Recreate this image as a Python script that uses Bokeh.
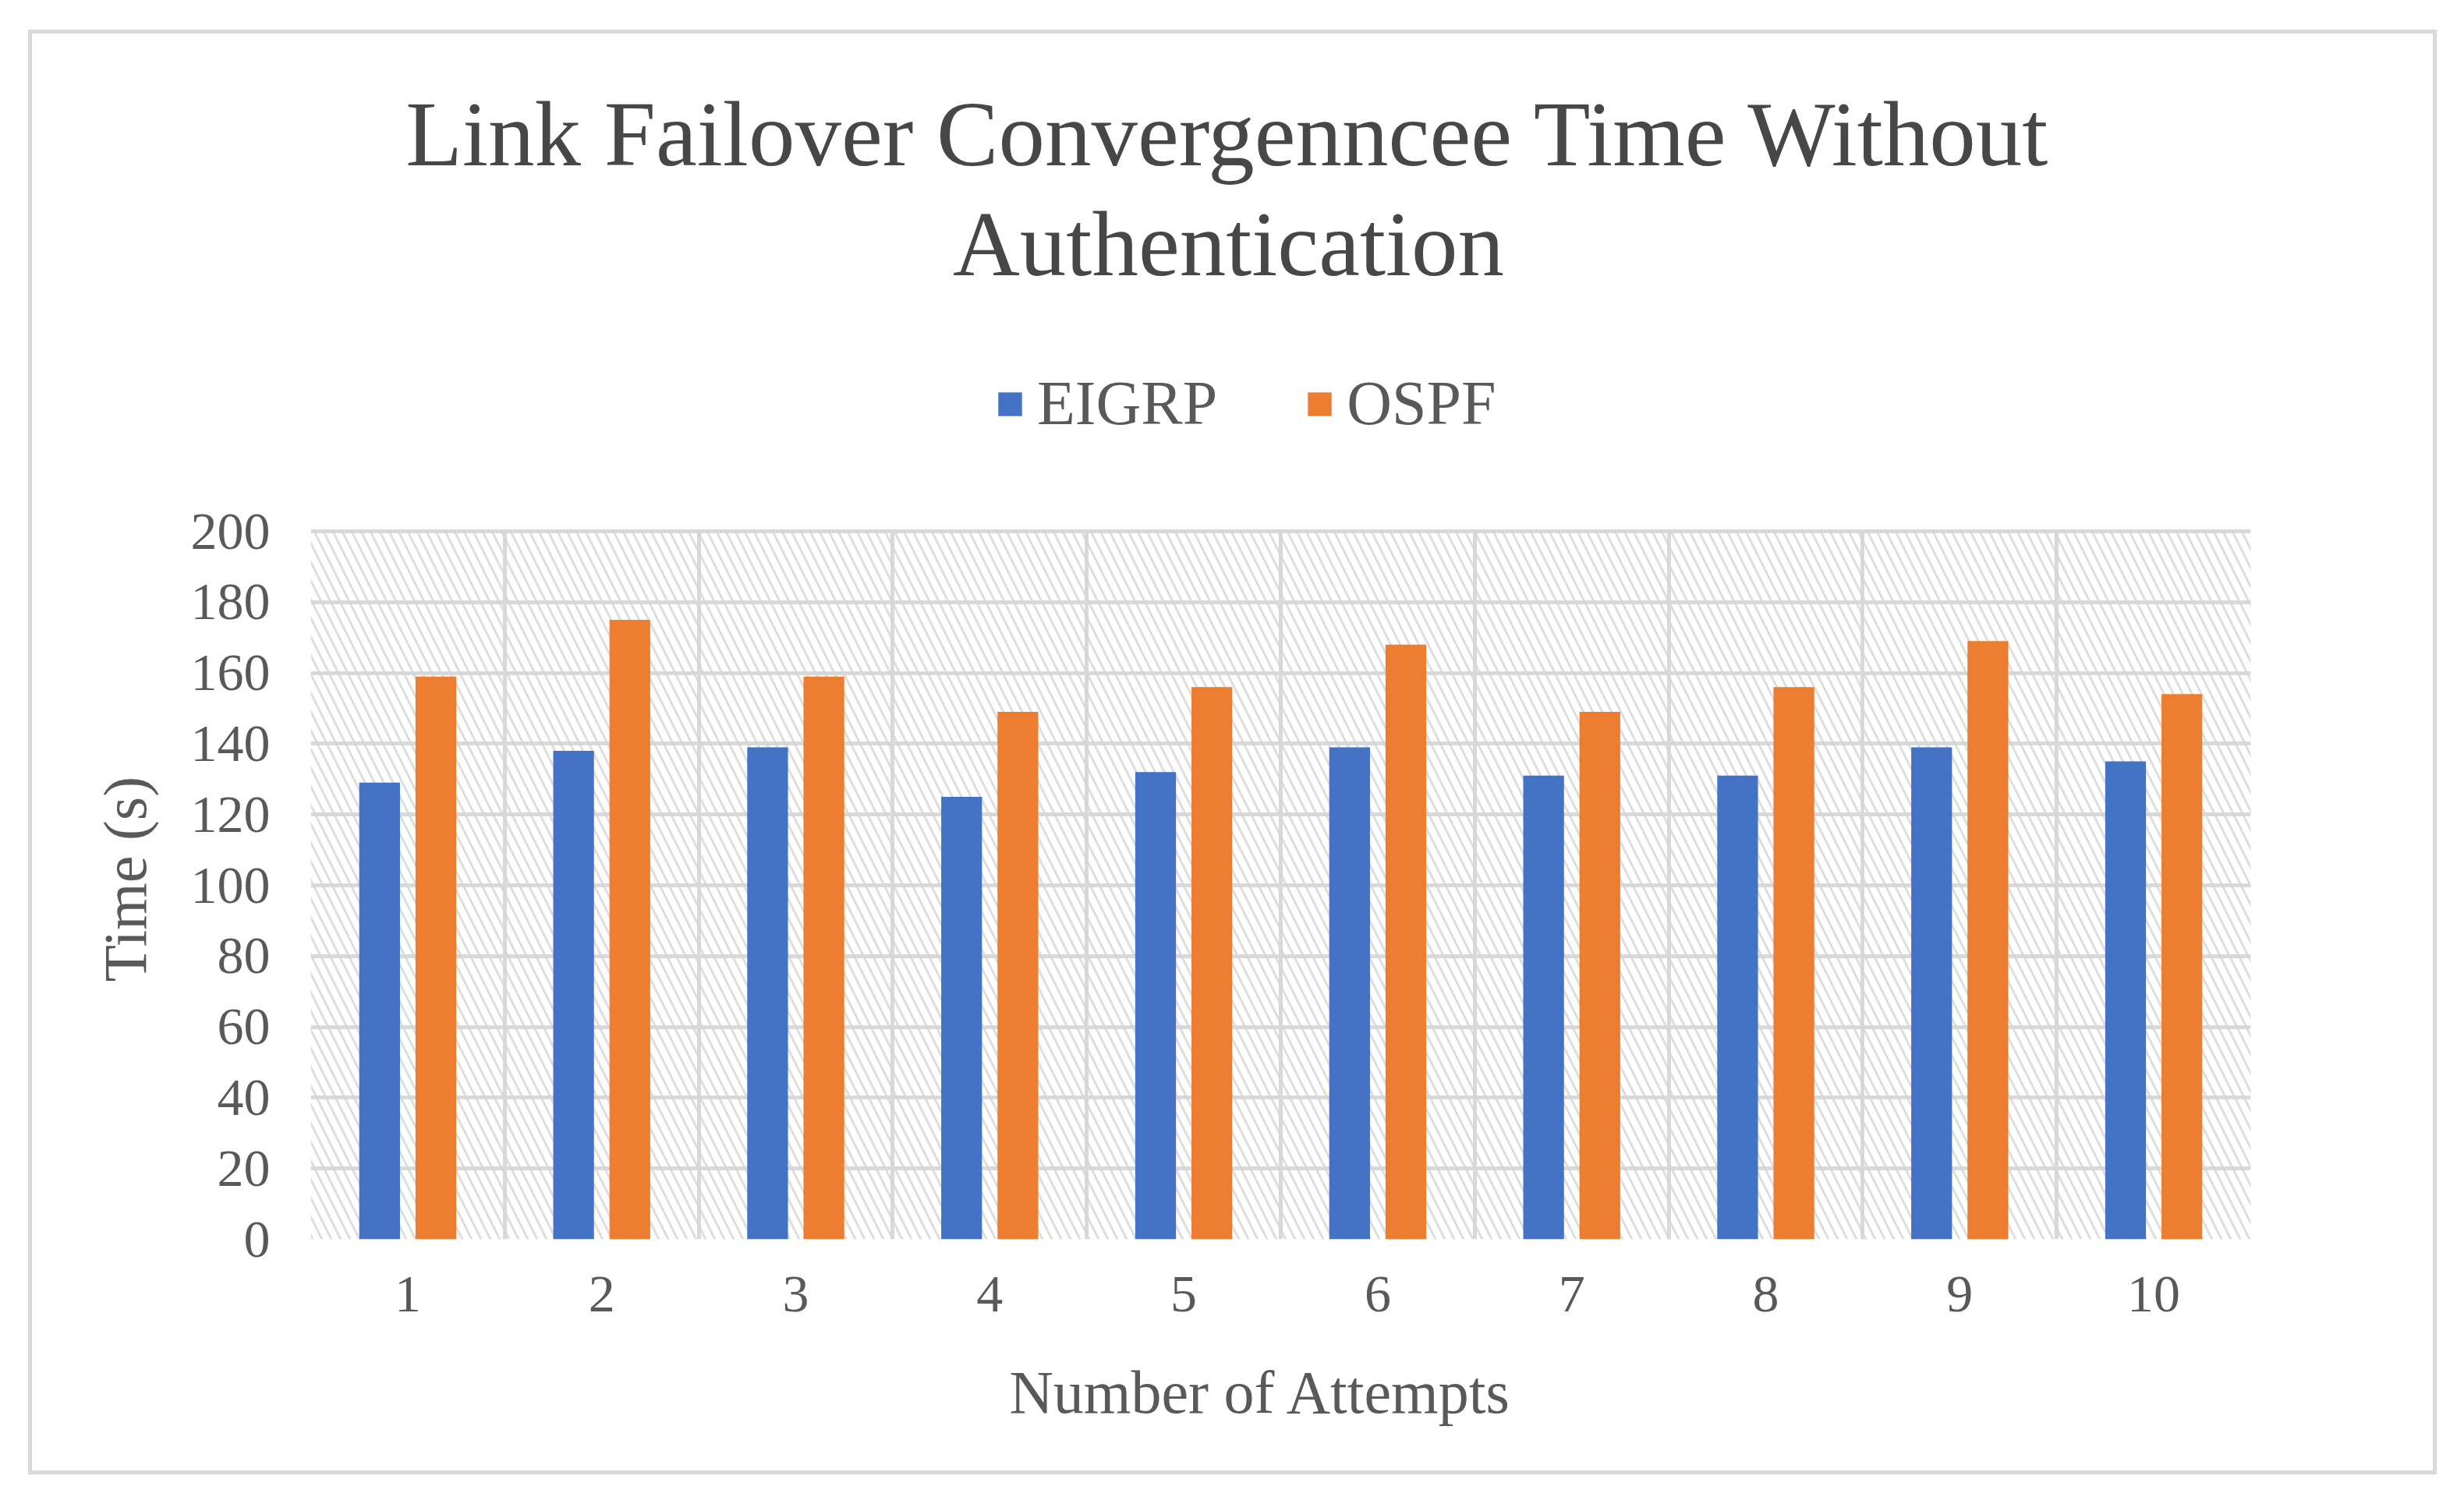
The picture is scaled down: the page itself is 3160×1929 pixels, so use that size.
from bokeh.plotting import figure
from bokeh.models import Range1d, FixedTicker, BoxAnnotation, Legend, LegendItem, Label, Title
from bokeh.embed import file_html
from bokeh.resources import INLINE

# ---- data ----
attempts = [1, 2, 3, 4, 5, 6, 7, 8, 9, 10]
eigrp = [129, 138, 139, 125, 132, 139, 131, 131, 139, 135]
ospf = [159, 175, 159, 149, 156, 168, 149, 156, 169, 154]
series_names = ["EIGRP", "OSPF"]
series_colors = ["#4472C4", "#ED7D31"]
y_ticks = [0, 20, 40, 60, 80, 100, 120, 140, 160, 180, 200]
title_lines = ["Link Failover Convergenncee Time Without", "Authentication"]
x_title = "Number of Attempts"
y_title = "Time (s)"

FONT = "Liberation Serif"
TXT = "#595959"
GRID = "#D9D9D9"

bar_w = 0.21
offset = 0.145

# layout (pixels): frame spans from element top down to plot bottom so that
# title and legend can live inside the frame
elem_top, plot_top, plot_bottom = 43, 681, 1589
frame_h = plot_bottom - elem_top
plot_h = plot_bottom - plot_top
y_max = y_ticks[-1] * frame_h / plot_h

p = figure(width=3079, height=1843, output_backend="svg", toolbar_location=None,
           x_range=Range1d(0.5, 10.5), y_range=Range1d(0, y_max), title=None,
           min_border_left=357, min_border_right=234, min_border_top=0, min_border_bottom=297)
p.styles = {"margin-left": "41px", "margin-top": "43px", "outline": "5px solid #D9D9D9"}
p.background_fill_color = "white"
p.border_fill_color = "white"
p.outline_line_color = None

hatch = BoxAnnotation(bottom=y_ticks[0], top=y_ticks[-1],
                      fill_alpha=0, line_alpha=0, hatch_pattern="left_diagonal_line",
                      hatch_color="#D6D6D6", hatch_weight=3, hatch_scale=24, hatch_alpha=0.8,
                      level="underlay")
p.add_layout(hatch)

boundaries = [a - 0.5 for a in attempts] + [attempts[-1] + 0.5]

# grid
p.xgrid.ticker = FixedTicker(ticks=boundaries)
p.ygrid.ticker = FixedTicker(ticks=y_ticks)
for g in (p.xgrid, p.ygrid):
    g.grid_line_color = GRID
    g.grid_line_width = 5
xg = p.xgrid[0]
if "cross_bounds" in xg.properties():
    xg.cross_bounds = (y_ticks[0], y_ticks[-1])
else:
    xg.grid_line_color = None
    p.segment(x0=boundaries, x1=boundaries, y0=[y_ticks[0]] * len(boundaries),
              y1=[y_ticks[-1]] * len(boundaries), line_color=GRID, line_width=5)

r1 = p.vbar(x=[a - offset for a in attempts], top=eigrp, width=bar_w,
            fill_color=series_colors[0], line_color=None)
r2 = p.vbar(x=[a + offset for a in attempts], top=ospf, width=bar_w,
            fill_color=series_colors[1], line_color=None)

# axes
p.xaxis.ticker = FixedTicker(ticks=attempts)
p.yaxis.ticker = FixedTicker(ticks=y_ticks)
p.yaxis.bounds = (y_ticks[0], y_ticks[-1])

for ax in (p.xaxis, p.yaxis):
    ax.axis_line_color = None
    ax.major_tick_line_color = None
    ax.minor_tick_line_color = None
    ax.major_tick_out = 0
    ax.major_tick_in = 0
    ax.minor_tick_out = 0
    ax.major_label_text_font = FONT
    ax.major_label_text_font_size = "68px"
    ax.major_label_text_color = TXT

p.xaxis.major_label_standoff = 48
p.yaxis.major_label_standoff = 52

# axis titles
ytitle = Title(text=y_title, align="left", offset=330, standoff=75,
               text_font=FONT, text_font_size="78px", text_color=TXT,
               text_font_style="normal")
p.add_layout(ytitle, "left")
xtitle = Title(text=x_title, align="left", offset=896, standoff=110,
               text_font=FONT, text_font_size="78px", text_color=TXT,
               text_font_style="normal")
p.add_layout(xtitle, "below")

# legend
legend = Legend(items=[LegendItem(label=series_names[0], renderers=[r1]),
                       LegendItem(label=series_names[1], renderers=[r2])],
                location=(878, 1026), orientation="horizontal",
                border_line_alpha=0, background_fill_alpha=0, padding=0, margin=0,
                glyph_width=38, glyph_height=38, label_standoff=16, spacing=112,
                label_text_font=FONT, label_text_font_size="80px", label_text_color=TXT,
                label_height=38)
p.add_layout(legend)

# title (two lines)
for txt, yy in zip(title_lines, [plot_bottom - 171, plot_bottom - 312]):
    p.add_layout(Label(x=1177, y=yy, x_units="screen", y_units="screen", text=txt,
                       text_align="center", text_baseline="middle", text_font=FONT,
                       text_font_size="119px", text_color="#474747"))

open("out.html", "w").write(file_html(p, INLINE))
